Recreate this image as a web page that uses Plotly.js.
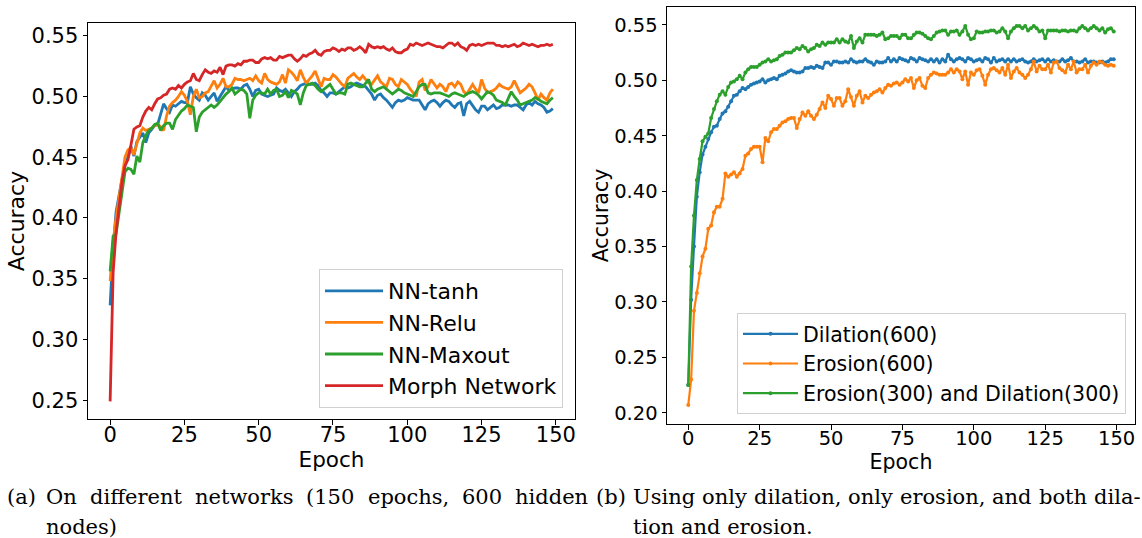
<!DOCTYPE html>
<html><head><meta charset="utf-8">
<script src="https://cdn.plot.ly/plotly-3.0.1.min.js"></script>
<style>html,body{margin:0;padding:0;background:#fff;} #chart{width:1142px;height:538px;}</style>
</head><body><div id="chart"></div>
<script>
// ---- data ----
const epochs = [];
for (let e = 0; e < 150; e++) epochs.push(e);

const xTicks = [0, 25, 50, 75, 100, 125, 150];
const yTicksA = [0.25, 0.30, 0.35, 0.40, 0.45, 0.50, 0.55];
const yTicksB = [0.20, 0.25, 0.30, 0.35, 0.40, 0.45, 0.50, 0.55];

const namesA = ["NN-tanh", "NN-Relu", "NN-Maxout", "Morph Network"];
const namesB = ["Dilation(600)", "Erosion(600)", "Erosion(300) and Dilation(300)"];

const nnTanh = [0.328,0.375,0.405,0.420,0.432,0.443,0.450,0.459,0.451,0.463,
0.467,0.470,0.462,0.470,0.473,0.476,0.477,0.485,0.494,0.490,
0.487,0.493,0.492,0.494,0.496,0.495,0.495,0.508,0.502,0.499,
0.497,0.503,0.501,0.497,0.500,0.503,0.496,0.500,0.504,0.508,
0.505,0.506,0.507,0.507,0.506,0.509,0.510,0.506,0.500,0.505,
0.506,0.502,0.501,0.500,0.501,0.502,0.507,0.505,0.504,0.506,
0.503,0.500,0.504,0.506,0.509,0.510,0.511,0.510,0.510,0.511,
0.509,0.505,0.503,0.500,0.503,0.503,0.502,0.504,0.506,0.508,
0.507,0.508,0.510,0.511,0.510,0.509,0.508,0.505,0.502,0.497,
0.501,0.502,0.499,0.497,0.494,0.491,0.495,0.497,0.496,0.497,
0.499,0.498,0.497,0.497,0.497,0.493,0.489,0.494,0.496,0.497,
0.495,0.492,0.495,0.497,0.496,0.493,0.491,0.494,0.495,0.484,
0.494,0.496,0.492,0.489,0.487,0.492,0.492,0.489,0.491,0.493,
0.490,0.491,0.493,0.493,0.493,0.492,0.493,0.493,0.491,0.489,
0.493,0.495,0.493,0.496,0.494,0.493,0.491,0.487,0.488,0.490];

const nnRelu = [0.348,0.380,0.400,0.418,0.435,0.450,0.456,0.458,0.452,0.462,
0.470,0.474,0.472,0.473,0.474,0.476,0.477,0.475,0.472,0.484,
0.492,0.495,0.497,0.500,0.504,0.501,0.496,0.485,0.500,0.506,
0.499,0.500,0.503,0.504,0.509,0.513,0.507,0.510,0.515,0.508,
0.508,0.510,0.515,0.514,0.514,0.513,0.514,0.515,0.513,0.517,
0.513,0.511,0.519,0.514,0.512,0.511,0.510,0.512,0.518,0.511,
0.522,0.520,0.517,0.513,0.522,0.516,0.511,0.514,0.517,0.521,
0.514,0.508,0.515,0.514,0.514,0.518,0.516,0.513,0.510,0.508,
0.515,0.517,0.519,0.516,0.514,0.517,0.514,0.511,0.510,0.514,
0.517,0.512,0.510,0.508,0.515,0.514,0.510,0.508,0.514,0.512,
0.510,0.506,0.503,0.500,0.512,0.514,0.505,0.508,0.514,0.510,
0.507,0.510,0.508,0.504,0.510,0.511,0.508,0.512,0.510,0.504,
0.502,0.506,0.510,0.506,0.503,0.514,0.507,0.503,0.504,0.505,
0.507,0.510,0.508,0.507,0.506,0.508,0.513,0.508,0.503,0.505,
0.507,0.510,0.508,0.503,0.497,0.502,0.499,0.497,0.503,0.506];

const nnMaxout = [0.356,0.385,0.387,0.405,0.420,0.438,0.441,0.440,0.436,0.451,
0.446,0.462,0.468,0.472,0.474,0.477,0.478,0.472,0.476,0.478,
0.478,0.473,0.481,0.485,0.488,0.490,0.493,0.492,0.491,0.471,
0.483,0.487,0.489,0.491,0.493,0.491,0.493,0.496,0.499,0.502,
0.504,0.507,0.502,0.504,0.506,0.505,0.502,0.482,0.497,0.501,
0.503,0.503,0.502,0.506,0.502,0.505,0.506,0.500,0.501,0.504,
0.499,0.505,0.504,0.502,0.493,0.503,0.509,0.510,0.511,0.509,
0.506,0.504,0.506,0.508,0.510,0.506,0.502,0.503,0.503,0.502,
0.510,0.511,0.510,0.509,0.508,0.508,0.511,0.514,0.506,0.504,
0.506,0.507,0.508,0.506,0.504,0.502,0.504,0.506,0.505,0.503,
0.502,0.501,0.500,0.504,0.508,0.510,0.510,0.503,0.502,0.503,
0.503,0.503,0.502,0.501,0.500,0.502,0.503,0.502,0.501,0.500,
0.502,0.503,0.504,0.503,0.501,0.498,0.501,0.504,0.503,0.501,
0.497,0.496,0.495,0.493,0.499,0.504,0.500,0.497,0.493,0.494,
0.495,0.496,0.497,0.499,0.498,0.496,0.495,0.494,0.497,0.499];

const morphNet = [0.249,0.355,0.388,0.410,0.430,0.443,0.448,0.460,0.473,0.475,
0.476,0.483,0.488,0.491,0.489,0.494,0.498,0.499,0.501,0.502,
0.506,0.507,0.506,0.509,0.507,0.510,0.512,0.513,0.519,0.514,
0.513,0.518,0.522,0.520,0.519,0.521,0.520,0.524,0.518,0.525,
0.526,0.526,0.525,0.527,0.526,0.529,0.529,0.530,0.530,0.528,
0.528,0.531,0.532,0.531,0.532,0.530,0.530,0.533,0.532,0.533,
0.534,0.534,0.531,0.529,0.531,0.534,0.533,0.535,0.536,0.538,
0.535,0.534,0.537,0.538,0.538,0.540,0.539,0.537,0.539,0.538,
0.540,0.540,0.538,0.539,0.541,0.539,0.536,0.543,0.541,0.540,
0.541,0.540,0.541,0.539,0.538,0.540,0.537,0.536,0.536,0.538,
0.539,0.543,0.542,0.544,0.543,0.542,0.543,0.544,0.543,0.542,
0.541,0.541,0.540,0.542,0.544,0.544,0.542,0.544,0.541,0.540,
0.538,0.542,0.543,0.542,0.543,0.542,0.543,0.544,0.544,0.544,
0.542,0.542,0.541,0.542,0.541,0.542,0.543,0.541,0.542,0.544,
0.543,0.542,0.543,0.542,0.541,0.542,0.542,0.543,0.542,0.543];

const dilation600 = [0.225,0.302,0.350,0.395,0.417,0.433,0.440,0.447,0.453,0.458,
0.459,0.465,0.470,0.472,0.476,0.481,0.486,0.487,0.490,0.493,
0.492,0.494,0.496,0.497,0.498,0.499,0.501,0.498,0.500,0.501,
0.502,0.501,0.504,0.505,0.506,0.508,0.509,0.508,0.507,0.507,
0.508,0.511,0.511,0.512,0.511,0.513,0.512,0.511,0.516,0.516,
0.514,0.517,0.517,0.516,0.516,0.517,0.516,0.519,0.517,0.516,
0.517,0.517,0.519,0.517,0.516,0.514,0.517,0.516,0.516,0.517,
0.520,0.517,0.519,0.517,0.520,0.519,0.518,0.517,0.520,0.519,
0.517,0.520,0.519,0.518,0.517,0.519,0.517,0.519,0.516,0.519,
0.517,0.523,0.519,0.517,0.519,0.520,0.519,0.517,0.520,0.519,
0.517,0.518,0.519,0.517,0.520,0.519,0.516,0.520,0.517,0.518,
0.519,0.517,0.519,0.517,0.519,0.517,0.518,0.519,0.517,0.516,
0.517,0.519,0.517,0.518,0.519,0.517,0.519,0.517,0.518,0.517,
0.517,0.519,0.517,0.518,0.520,0.517,0.517,0.516,0.517,0.519,
0.516,0.517,0.517,0.516,0.516,0.517,0.516,0.517,0.519,0.519];

const erosion600 = [0.207,0.230,0.292,0.308,0.326,0.341,0.348,0.366,0.369,0.381,
0.386,0.386,0.393,0.416,0.413,0.415,0.417,0.413,0.416,0.420,
0.432,0.434,0.438,0.440,0.440,0.440,0.426,0.448,0.445,0.453,
0.456,0.456,0.459,0.462,0.463,0.465,0.466,0.466,0.457,0.465,
0.471,0.468,0.472,0.468,0.465,0.469,0.474,0.480,0.475,0.486,
0.483,0.477,0.484,0.484,0.477,0.481,0.492,0.485,0.477,0.486,
0.490,0.480,0.486,0.484,0.487,0.489,0.490,0.492,0.489,0.493,
0.496,0.495,0.497,0.498,0.496,0.498,0.501,0.499,0.502,0.493,
0.500,0.502,0.495,0.493,0.502,0.505,0.507,0.506,0.505,0.505,
0.505,0.507,0.510,0.507,0.510,0.508,0.501,0.508,0.496,0.507,
0.505,0.509,0.510,0.504,0.496,0.505,0.510,0.511,0.509,0.507,
0.511,0.505,0.514,0.502,0.508,0.511,0.507,0.505,0.502,0.505,
0.510,0.517,0.508,0.513,0.510,0.510,0.514,0.507,0.516,0.517,
0.511,0.509,0.507,0.514,0.510,0.517,0.507,0.510,0.510,0.514,
0.507,0.513,0.516,0.514,0.517,0.516,0.514,0.513,0.514,0.513];

const erosionDilation300 = [0.225,0.332,0.378,0.410,0.429,0.445,0.449,0.452,0.466,0.474,
0.481,0.487,0.490,0.487,0.494,0.498,0.499,0.501,0.504,0.501,
0.507,0.510,0.512,0.512,0.512,0.514,0.516,0.517,0.519,0.517,
0.518,0.519,0.522,0.523,0.525,0.525,0.525,0.527,0.529,0.528,
0.531,0.529,0.526,0.528,0.529,0.532,0.531,0.534,0.532,0.534,
0.534,0.534,0.537,0.534,0.537,0.535,0.534,0.540,0.529,0.535,
0.538,0.534,0.541,0.541,0.541,0.541,0.540,0.541,0.543,0.537,
0.538,0.540,0.540,0.540,0.538,0.541,0.541,0.538,0.538,0.541,
0.543,0.543,0.542,0.540,0.538,0.537,0.540,0.543,0.544,0.545,
0.545,0.541,0.544,0.544,0.545,0.541,0.544,0.549,0.541,0.537,
0.538,0.544,0.543,0.543,0.544,0.544,0.545,0.545,0.543,0.544,
0.547,0.544,0.538,0.544,0.547,0.549,0.549,0.547,0.549,0.545,
0.547,0.549,0.547,0.544,0.545,0.538,0.545,0.545,0.545,0.545,
0.544,0.545,0.545,0.544,0.545,0.545,0.544,0.547,0.549,0.547,
0.545,0.547,0.549,0.547,0.545,0.547,0.543,0.546,0.547,0.544];

const captionLabelA = "(a)";
const captionA1 = ["On", "different", "networks", "(150", "epochs,", "600", "hidden"];
const captionA2 = "nodes)";
const captionLabelB = "(b)";
const captionB1 = ["Using", "only", "dilation,", "only", "erosion,", "and", "both", "dila-"];
const captionB2 = "tion and erosion.";

// ---- drawing ----
const colors = ["#1f77b4", "#ff7f0e", "#2ca02c", "#d62728"];
const W = 1142, H = 538;
const sans = "DejaVu Sans, sans-serif";
const serifFamily = "DejaVu Serif";
const capSize = 21;

const seriesA = [nnTanh, nnRelu, nnMaxout, morphNet];
const seriesB = [dilation600, erosion600, erosionDilation300];

const traces = [];
seriesA.forEach((ys, i) => traces.push({
  x: epochs, y: ys, type: "scatter", mode: "lines", name: namesA[i],
  legendgroup: "a" + i,
  line: {color: colors[i], width: 2.8}, xaxis: "x", yaxis: "y", legend: "legend"
}));
seriesB.forEach((ys, i) => traces.push({
  x: epochs, y: ys, type: "scatter", mode: "lines+markers", name: namesB[i],
  legendgroup: "b" + i,
  line: {color: colors[i], width: 2.2}, marker: {color: colors[i], size: 4},
  xaxis: "x2", yaxis: "y2", legend: "legend2"
}));

function axisCommon(size) {
  return {
    showgrid: false, zeroline: false, showline: true, mirror: true,
    linecolor: "#000", linewidth: 1, ticks: "outside", ticklen: 4.5, tickwidth: 1,
    tickcolor: "#000", tickfont: {family: sans, size: size, color: "#000"},
    automargin: false
  };
}

const px = v => v / W, py = v => 1 - v / H;

// caption text, justified between given pixel edges
const ctx = document.createElement("canvas").getContext("2d");
ctx.font = capSize + "px '" + serifFamily + "'";
const annotations = [];
function addWord(t, x, yPix) {
  annotations.push({
    text: t, xref: "paper", yref: "paper", x: px(x - 2), y: py(yPix),
    xanchor: "left", yanchor: "middle", showarrow: false,
    font: {family: serifFamily + ", serif", size: capSize, color: "#000"}
  });
}
function justify(words, left, right, yPix) {
  const widths = words.map(w => ctx.measureText(w).width);
  const total = widths.reduce((a, b) => a + b, 0);
  const gap = (right - left - total) / (words.length - 1);
  let x = left;
  words.forEach((w, i) => { addWord(w, x, yPix); x += widths[i] + gap; });
}
addWord(captionLabelA, 7, 497);
justify(captionA1, 46, 588, 497);
addWord(captionA2, 46, 527);
addWord(captionLabelB, 596, 497);
justify(captionB1, 633, 1140, 497);
addWord(captionB2, 633, 527);

const layout = {
  width: W, height: H,
  margin: {l: 0, r: 0, t: 0, b: 0},
  paper_bgcolor: "#fff", plot_bgcolor: "#fff",
  showlegend: true,
  xaxis: Object.assign(axisCommon(21), {
    domain: [px(88), px(575)], range: [-7.45, 156.45], tickvals: xTicks,
    ticklabelstandoff: -8,
    title: {text: "Epoch", font: {family: sans, size: 21.5, color: "#000"}, standoff: 2},
    anchor: "y"
  }),
  yaxis: Object.assign(axisCommon(21), {
    domain: [1 - 419 / H, 1 - 23 / H], range: [0.2345, 0.5605], tickvals: yTicksA,
    tickformat: ".2f",
    title: {text: "Accuracy", font: {family: sans, size: 22, color: "#000"}, standoff: 0},
    anchor: "x"
  }),
  xaxis2: Object.assign(axisCommon(19.5), {
    domain: [px(667), px(1135)], range: [-7.45, 156.45], tickvals: xTicks,
    ticklabelstandoff: -8,
    title: {text: "Epoch", font: {family: sans, size: 20.5, color: "#000"}, standoff: 2},
    anchor: "y2"
  }),
  yaxis2: Object.assign(axisCommon(19.5), {
    domain: [1 - 424 / H, 1 - 7 / H], range: [0.1899, 0.5661], tickvals: yTicksB,
    tickformat: ".2f",
    title: {text: "Accuracy", font: {family: sans, size: 20.5, color: "#000"}, standoff: 0},
    anchor: "x2"
  }),
  legend: {
    x: px(563), y: py(408), xanchor: "right", yanchor: "bottom",
    bgcolor: "rgba(255,255,255,0.85)", bordercolor: "#d0d0d0", borderwidth: 1,
    itemwidth: 58, tracegroupgap: 1.5, traceorder: "normal",
    font: {family: sans, size: 22, color: "#000"}
  },
  legend2: {
    x: px(1126), y: py(414), xanchor: "right", yanchor: "bottom",
    bgcolor: "rgba(255,255,255,0.85)", bordercolor: "#d0d0d0", borderwidth: 1,
    itemwidth: 55, tracegroupgap: 1.5, traceorder: "normal",
    font: {family: sans, size: 20.5, color: "#000"}
  },
  annotations: annotations
};

Plotly.newPlot("chart", traces, layout, {displayModeBar: false, staticPlot: true});
</script>
</body></html>
